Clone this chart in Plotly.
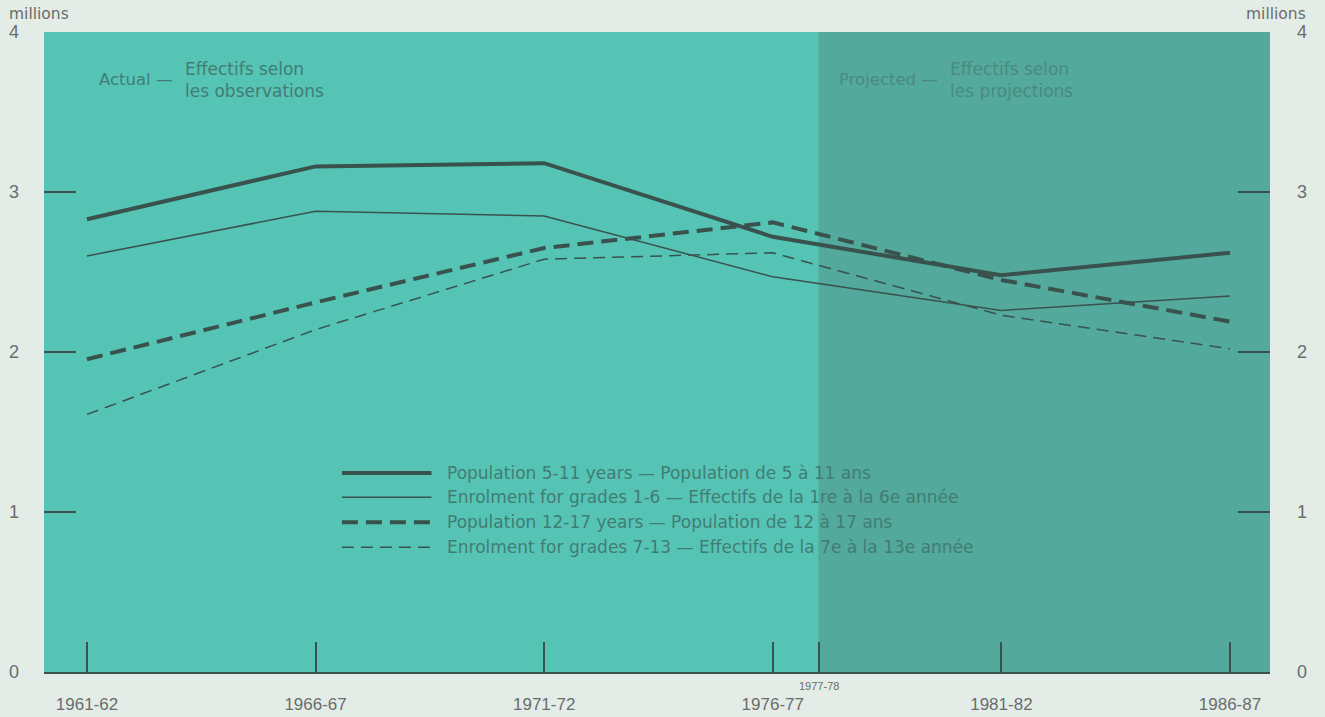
import plotly.graph_objects as go

years = [1961, 1966, 1971, 1976, 1981, 1986]
year_labels = ["1961-62", "1966-67", "1971-72", "1976-77", "1981-82", "1986-87"]
projection_start = 1977
projection_label = "1977-78"
projection_end = 1986.875

pop_5_11 = [2.83, 3.16, 3.18, 2.72, 2.48, 2.62]
enrol_1_6 = [2.60, 2.88, 2.85, 2.47, 2.26, 2.35]
pop_12_17 = [1.955, 2.31, 2.65, 2.81, 2.45, 2.19]
enrol_7_13 = [1.61, 2.14, 2.58, 2.62, 2.23, 2.02]

series_names = [
    "Population 5-11 years — Population de 5 à 11 ans",
    "Enrolment for grades 1-6 — Effectifs de la 1re à la 6e année",
    "Population 12-17 years — Population de 12 à 17 ans",
    "Enrolment for grades 7-13 — Effectifs de la 7e à la 13e année",
]
y_ticks = [0, 1, 2, 3, 4]

LINE = "#39524e"
TXT_IN = "#417d73"
TXT_PROJ = "#4b8a80"
TXT_OUT = "#6a6d6b"
FONT = "Liberation Sans, Arial, sans-serif"
FONT_W = "DejaVu Sans, Verdana, sans-serif"

styles = [
    dict(width=4, dash="solid"),
    dict(width=1.5, dash="solid"),
    dict(width=4, dash="16px,8px"),
    dict(width=1.5, dash="12px,7px"),
]
data = [pop_5_11, enrol_1_6, pop_12_17, enrol_7_13]

fig = go.Figure()
for name, vals, st in zip(series_names, data, styles):
    fig.add_trace(go.Scatter(x=years, y=vals, mode="lines", name=name,
                             line=dict(color=LINE, width=st["width"], dash=st["dash"]),
                             showlegend=False, hoverinfo="skip"))
# invisible trace for right axis
fig.add_trace(go.Scatter(x=years, y=pop_5_11, yaxis="y2", mode="lines",
                         line=dict(color="rgba(0,0,0,0)"), showlegend=False, hoverinfo="skip"))

# projected shading
fig.add_shape(type="rect", xref="x", yref="y", x0=projection_start, x1=projection_end,
              y0=0, y1=4, fillcolor="#52a99c", line=dict(width=0), layer="below")

# custom legend
leg_y = [0.311, 0.273, 0.234, 0.195]
for (yy, st, name) in zip(leg_y, styles, series_names):
    fig.add_shape(type="line", xref="paper", yref="paper", x0=0.243, x1=0.316, y0=yy, y1=yy,
                  line=dict(color=LINE, width=st["width"], dash=st["dash"]))
    fig.add_annotation(xref="paper", yref="paper", x=0.327, y=yy, text=name, showarrow=False,
                       xanchor="left", yanchor="middle", font=dict(family=FONT_W, size=17, color=TXT_IN))

# region labels
fig.add_annotation(xref="paper", yref="paper", x=0.043, y=0.925, text="Actual —", showarrow=False,
                   xanchor="left", yanchor="middle", font=dict(family=FONT_W, size=16.5, color=TXT_IN))
fig.add_annotation(xref="paper", yref="paper", x=0.113, y=0.925, text="Effectifs selon<br>les observations",
                   showarrow=False, xanchor="left", yanchor="middle", align="left",
                   font=dict(family=FONT_W, size=17, color=TXT_IN))
fig.add_annotation(xref="paper", yref="paper", x=0.647, y=0.925, text="Projected —", showarrow=False,
                   xanchor="left", yanchor="middle", font=dict(family=FONT_W, size=16.5, color=TXT_PROJ))
fig.add_annotation(xref="paper", yref="paper", x=0.737, y=0.925, text="Effectifs selon<br>les projections",
                   showarrow=False, xanchor="left", yanchor="middle", align="left",
                   font=dict(family=FONT_W, size=17, color=TXT_PROJ))

# millions labels
fig.add_annotation(xref="paper", yref="paper", x=-0.03, y=1.0, yshift=18, text="millions", showarrow=False,
                   xanchor="left", yanchor="middle", font=dict(family=FONT_W, size=15.5, color=TXT_OUT))
fig.add_annotation(xref="paper", yref="paper", x=1.031, y=1.0, yshift=18, text="millions", showarrow=False,
                   xanchor="right", yanchor="middle", font=dict(family=FONT_W, size=15.5, color=TXT_OUT))
# 1977-78 label
fig.add_annotation(xref="x", yref="paper", x=projection_start, y=0, yshift=-14, text=projection_label,
                   showarrow=False, xanchor="center", yanchor="middle",
                   font=dict(family=FONT, size=11, color=TXT_OUT))

fig.update_layout(
    width=1325, height=717,
    margin=dict(l=44, r=55, t=32, b=45, autoexpand=False),
    paper_bgcolor="#e3ece7",
    plot_bgcolor="#56c4b5",
    showlegend=False,
    xaxis=dict(range=[1960.06, projection_end], tickmode="array", tickvals=years, ticktext=year_labels,
               automargin=False,
               ticks="inside", ticklen=30, tickwidth=1.5, tickcolor=LINE,
               showgrid=False, zeroline=False, showline=True, linecolor=LINE, linewidth=2,
               ticklabelstandoff=16, tickfont=dict(family=FONT, size=17, color=TXT_OUT),
               minor=dict(tickmode="array", tickvals=[projection_start], ticks="inside",
                          ticklen=30, tickwidth=1.5, tickcolor=LINE, showgrid=False)),
    yaxis=dict(range=[0, 4], tickmode="array", tickvals=y_ticks, ticks="", showgrid=False,
               automargin=False,
               zeroline=False, showline=False, ticklabelstandoff=24,
               tickfont=dict(family=FONT, size=18, color=TXT_OUT),
               minor=dict(tickmode="array", tickvals=[1, 2, 3], ticks="inside", ticklen=32,
                          tickwidth=1.5, tickcolor=LINE, showgrid=False)),
    yaxis2=dict(range=[0, 4], overlaying="y", side="right", tickmode="array", tickvals=y_ticks,
                automargin=False,
                ticks="", showgrid=False, zeroline=False, showline=False, ticklabelstandoff=26,
                tickfont=dict(family=FONT, size=18, color=TXT_OUT),
                minor=dict(tickmode="array", tickvals=[1, 2, 3], ticks="inside", ticklen=32,
                           tickwidth=1.5, tickcolor=LINE, showgrid=False)),
)

fig.write_html("out.html", config={"displayModeBar": False},
               post_script="document.body.style.margin='0';document.body.style.background='#e3ece7';")
